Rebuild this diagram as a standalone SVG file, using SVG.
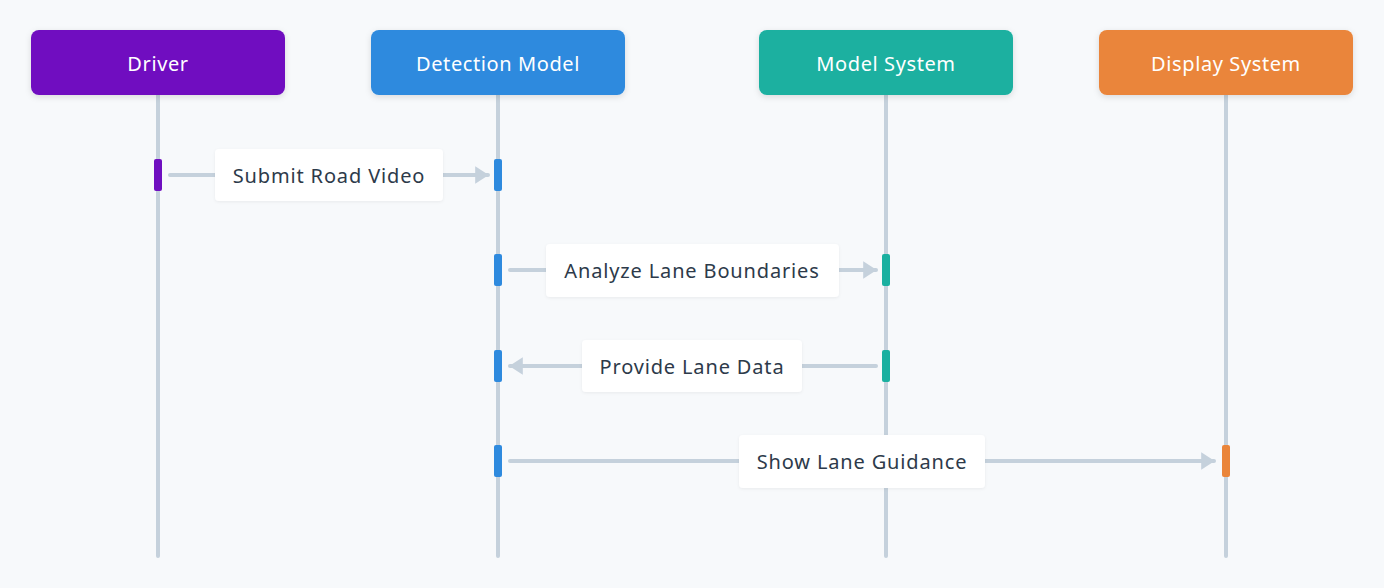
<svg xmlns="http://www.w3.org/2000/svg" width="1384" height="588" viewBox="0 0 1384 588">
<defs>
<filter id="sh" x="-10%" y="-20%" width="120%" height="150%">
<feDropShadow dx="0" dy="2" stdDeviation="3" flood-color="#000" flood-opacity="0.12"/>
</filter>
<filter id="sh2" x="-10%" y="-20%" width="120%" height="150%">
<feDropShadow dx="0" dy="1" stdDeviation="1.5" flood-color="#000" flood-opacity="0.06"/>
</filter>
<marker id="ah" markerWidth="4" markerHeight="4.4" refX="3.2" refY="2.2" orient="auto-start-reverse" markerUnits="strokeWidth">
<path d="M0,0 L3.4,2.2 L0,4.4 Z" fill="#c5d1dc"/>
</marker>
</defs>
<style>
.node text{font-family:"Noto Sans","Open Sans",sans-serif;font-size:20px;letter-spacing:0.6px;fill:#ffffff;text-anchor:middle;dominant-baseline:central}
.life{stroke:#c5d1dc;stroke-width:4;stroke-linecap:round}
.msg{stroke:#c5d1dc;stroke-width:4;stroke-linecap:round;fill:none}
.lbl rect{fill:#ffffff}
.lbl text{font-family:"Noto Sans","Open Sans",sans-serif;font-size:20px;letter-spacing:0.85px;fill:#2d3a4a;text-anchor:middle;dominant-baseline:central}
</style>
<rect width="1384" height="588" fill="#f7f9fb"/>
<g id="lifelines">
<line class="life" x1="158" y1="95" x2="158" y2="556"/>
<line class="life" x1="498" y1="95" x2="498" y2="556"/>
<line class="life" x1="886" y1="95" x2="886" y2="556"/>
<line class="life" x1="1226" y1="95" x2="1226" y2="556"/>
</g>
<g id="node-driver" class="node">
<rect x="31" y="30" width="254" height="65" rx="8" fill="#6f0fc0" filter="url(#sh)"/>
<text x="158" y="63">Driver</text>
</g>
<g id="node-detection" class="node">
<rect x="371" y="30" width="254" height="65" rx="8" fill="#2e8ade" filter="url(#sh)"/>
<text x="498" y="63">Detection Model</text>
</g>
<g id="node-model" class="node">
<rect x="759" y="30" width="254" height="65" rx="8" fill="#1ab0a0" filter="url(#sh)"/>
<text x="886" y="63">Model System</text>
</g>
<g id="node-display" class="node">
<rect x="1099" y="30" width="254" height="65" rx="8" fill="#ea853a" filter="url(#sh)"/>
<text x="1226" y="63">Display System</text>
</g>
<g id="connectors">
<line class="msg" x1="170" y1="175" x2="488" y2="175" marker-end="url(#ah)"/>
<line class="msg" x1="510" y1="270" x2="876" y2="270" marker-end="url(#ah)"/>
<line class="msg" x1="876" y1="366" x2="510" y2="366" marker-end="url(#ah)"/>
<line class="msg" x1="510" y1="461" x2="1214" y2="461" marker-end="url(#ah)"/>
</g>
<g id="activations">
<rect x="154" y="159" width="8" height="32" rx="2" fill="#6f0fc0"/>
<rect x="494" y="159" width="8" height="32" rx="2" fill="#2e8ade"/>
<rect x="494" y="254" width="8" height="32" rx="2" fill="#2e8ade"/>
<rect x="882" y="254" width="8" height="32" rx="2" fill="#1ab0a0"/>
<rect x="494" y="350" width="8" height="32" rx="2" fill="#2e8ade"/>
<rect x="882" y="350" width="8" height="32" rx="2" fill="#1ab0a0"/>
<rect x="494" y="445" width="8" height="32" rx="2" fill="#2e8ade"/>
<rect x="1222" y="445" width="8" height="32" rx="2" fill="#ea853a"/>
</g>
<g id="label-1" class="lbl">
<rect x="215" y="149" width="228" height="52" rx="4" filter="url(#sh2)"/>
<text x="329" y="175">Submit Road Video</text>
</g>
<g id="label-2" class="lbl">
<rect x="546" y="244" width="293" height="53" rx="4" filter="url(#sh2)"/>
<text x="692" y="270">Analyze Lane Boundaries</text>
</g>
<g id="label-3" class="lbl">
<rect x="582" y="340" width="220" height="52" rx="4" filter="url(#sh2)"/>
<text x="692" y="366">Provide Lane Data</text>
</g>
<g id="label-4" class="lbl">
<rect x="739" y="435" width="246" height="53" rx="4" filter="url(#sh2)"/>
<text x="862" y="461">Show Lane Guidance</text>
</g>
</svg>
